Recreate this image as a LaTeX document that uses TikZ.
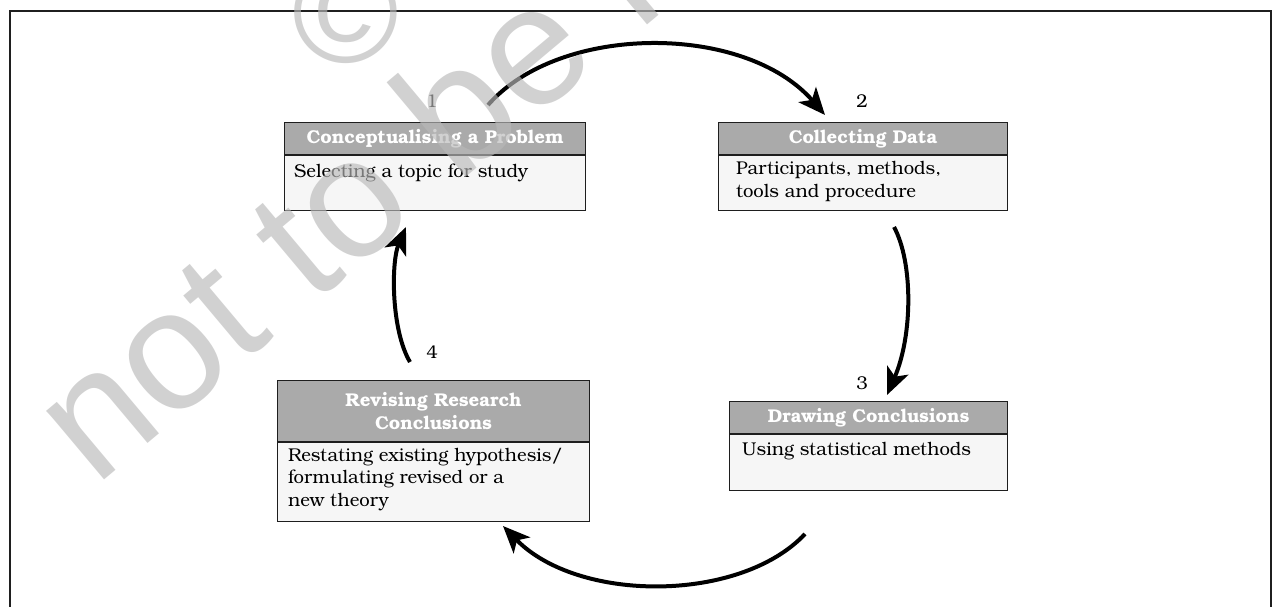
\documentclass[tikz,border=0pt]{standalone}
\usepackage{fontspec}
\setmainfont{texgyrebonum}[Extension=.otf,UprightFont=*-regular,BoldFont=*-bold,ItalicFont=*-italic,BoldItalicFont=*-bolditalic]
\newfontfamily\wmfont{Liberation Sans}
\usetikzlibrary{arrows.meta}
\definecolor{hdrgray}{RGB}{170,170,170}
\definecolor{bodygray}{RGB}{246,246,246}
\definecolor{edgegray}{RGB}{30,30,30}
\definecolor{wmgray}{RGB}{185,185,185}
\tikzset{
  hdr/.style={draw=edgegray, line width=1.2pt, fill=hdrgray, text=white, inner sep=0pt,
    font=\fontsize{18.5}{23}\selectfont\bfseries, align=center, anchor=north west},
  bodybox/.style={draw=edgegray, line width=1.2pt, fill=bodygray, inner sep=0pt, anchor=north west},
  bodytext/.style={inner sep=0pt, anchor=base west, align=left, font=\fontsize{18.5}{22.5}\selectfont},
  numlabel/.style={inner sep=0pt, anchor=base, font=\fontsize{18.5}{20}\selectfont},
  flow/.style={line width=4pt, -{Stealth[length=27pt,width=23pt,inset=7pt]}},
  wm/.style={inner sep=0pt, text=wmgray, text opacity=0.65}
}
\begin{document}
\begin{tikzpicture}[x=1pt,y=-1pt]
\useasboundingbox (0,0) rectangle (1273,607);
% frame
\draw[line width=2.2pt, black!88] (10,607) -- (10,11) -- (1271,11) -- (1271,607);

% box 1
\node[hdr, minimum width=301pt, minimum height=32pt] (h1) at (284,122) {Conceptualising a Problem};
\node[bodybox, minimum width=301pt, minimum height=55pt] (b1) at (h1.south west) {};
\node[bodytext] (t1) at (294,177) {Selecting a topic for study};
\node[numlabel] (n1) at (432,108) {1};

% box 2
\node[hdr, minimum width=289pt, minimum height=32pt] (h2) at (718,122) {Collecting Data};
\node[bodybox, minimum width=289pt, minimum height=55pt] (b2) at (h2.south west) {};
\node[bodytext] (t2) at (736,197) {Participants, methods,\\tools and procedure};
\node[numlabel] (n2) at (862,108) {2};

% box 3
\node[hdr, minimum width=278pt, minimum height=32pt] (h3) at (729,401) {Drawing Conclusions};
\node[bodybox, minimum width=278pt, minimum height=56pt] (b3) at (h3.south west) {};
\node[bodytext] (t3) at (742,455) {Using statistical methods};
\node[numlabel] (n3) at (862,389) {3};

% box 4
\node[hdr, minimum width=312pt, minimum height=61pt] (h4) at (277,380) {Revising Research\\Conclusions};
\node[bodybox, minimum width=312pt, minimum height=79pt] (b4) at (h4.south west) {};
\node[bodytext] (t4) at (288,506) {Restating existing hypothesis/\\formulating revised or a\\new theory};
\node[numlabel] (n4) at (432,358) {4};

% arrow end points
\coordinate (a1s) at (488,105);
\coordinate (a1e) at (825,115);
\coordinate (a2s) at (894,227);
\coordinate (a2e) at (887,395);
\coordinate (a3s) at (805,534);
\coordinate (a3e) at (503,526);
\coordinate (a4s) at (410,362);
\coordinate (a4e) at (406,227);

\draw[flow] (a1s) .. controls (560,23) and (745,23) .. (a1e);
\draw[flow] (a2s) .. controls (913,262) and (913,335) .. (a2e);
\draw[flow] (a3s) .. controls (740,603) and (578,603) .. (a3e);
\draw[flow] (a4s) .. controls (391,330) and (391,262) .. (a4e);

% watermark
\node[wm, rotate=40, anchor=base west, font=\wmfont\fontsize{170}{170}\selectfont] (wm1) at (95,488) {not to be republished};
\node[wm, font=\wmfont\fontsize{145}{145}\selectfont] (wm2) at (346,12) {\char"00A9};
\end{tikzpicture}
\end{document}
